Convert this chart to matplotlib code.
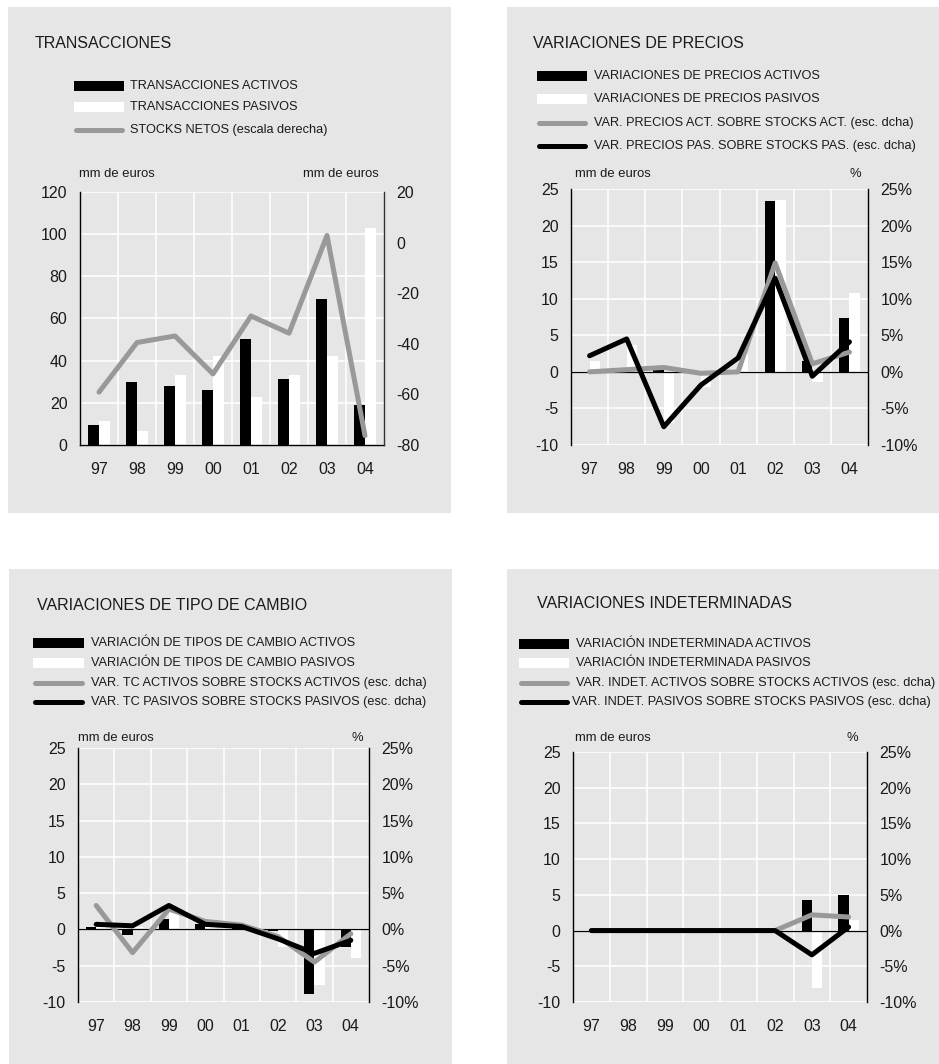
import matplotlib
matplotlib.use("Agg")
import matplotlib.pyplot as plt
from matplotlib.patches import Rectangle
from matplotlib.lines import Line2D

plt.rcParams["font.family"] = ["Liberation Sans", "DejaVu Sans"]

W, H = 939, 1064
BG = "#e6e6e6"
GREY = "#999999"

years = ["97", "98", "99", "00", "01", "02", "03", "04"]

# TRANSACCIONES (mm de euros; stocks netos on right axis)
trans_act = [9.6, 30.1, 27.8, 25.9, 50.5, 31.5, 69.4, 18.8]
trans_pas = [11.2, 6.5, 33.3, 42.0, 22.6, 33.0, 42.0, 102.8]
stocks_netos = [-59.1, -39.5, -36.9, -51.9, -29.0, -35.8, 2.8, -76.3]

# VARIACIONES DE PRECIOS
precios_act = [0.0, 0.3, 0.3, 0.0, 0.0, 23.3, 1.5, 7.3]
precios_pas = [1.5, 3.7, -7.0, -2.1, 2.5, 23.5, -1.4, 10.8]
precios_act_pct = [0.0, 0.3, 0.6, -0.2, 0.0, 14.9, 1.1, 2.7]
precios_pas_pct = [2.2, 4.5, -7.5, -1.8, 1.9, 12.8, -0.6, 4.1]

# VARIACIONES DE TIPO DE CAMBIO
tc_act = [0.4, -0.8, 1.5, 0.8, 0.2, -0.2, -8.9, -2.4]
tc_pas = [0.3, 0.3, 2.6, 1.0, 0.3, -2.4, -7.7, -4.0]
tc_act_pct = [3.3, -3.2, 2.8, 1.1, 0.6, -1.0, -4.5, -0.6]
tc_pas_pct = [0.7, 0.5, 3.3, 0.7, 0.4, -1.3, -3.3, -1.5]

# VARIACIONES INDETERMINADAS
ind_act = [0, 0, 0, 0, 0, 0, 4.3, 5.0]
ind_pas = [0, 0, 0, 0, 0, 0, -8.0, 1.5]
ind_act_pct = [0, 0, 0, 0, 0, 0, 2.2, 1.9]
ind_pas_pct = [0, 0, 0, 0, 0, 0, -3.4, 0.5]

titles = ["TRANSACCIONES", "VARIACIONES DE PRECIOS",
          "VARIACIONES DE TIPO DE CAMBIO", "VARIACIONES INDETERMINADAS"]
legend_labels = [
    ["TRANSACCIONES ACTIVOS", "TRANSACCIONES PASIVOS",
     "STOCKS NETOS (escala derecha)"],
    ["VARIACIONES DE PRECIOS ACTIVOS", "VARIACIONES DE PRECIOS PASIVOS",
     "VAR. PRECIOS ACT. SOBRE STOCKS ACT. (esc. dcha)",
     "VAR. PRECIOS PAS. SOBRE STOCKS PAS. (esc. dcha)"],
    ["VARIACIÓN DE TIPOS DE CAMBIO ACTIVOS", "VARIACIÓN DE TIPOS DE CAMBIO PASIVOS",
     "VAR. TC ACTIVOS SOBRE STOCKS ACTIVOS (esc. dcha)",
     "VAR. TC PASIVOS SOBRE STOCKS PASIVOS (esc. dcha)"],
    ["VARIACIÓN INDETERMINADA ACTIVOS", "VARIACIÓN INDETERMINADA PASIVOS",
     "VAR. INDET. ACTIVOS SOBRE STOCKS ACTIVOS (esc. dcha)",
     "VAR. INDET. PASIVOS SOBRE STOCKS PASIVOS (esc. dcha)"],
]

LEG_SIZE = 9.2
TICK_SIZE = 11.5

fig = plt.figure(figsize=(W / 100, H / 100), dpi=100)


def fx(px):
    return px / W


def fy(py):
    return 1 - py / H


def text(x, y, s, size, ha="left"):
    fig.text(fx(x), fy(y), s, fontsize=size, ha=ha, va="center", color="#1a1a1a")


def background(x0, y0, x1, y1):
    fig.patches.append(Rectangle((fx(x0), fy(y1)), fx(x1 - x0), (y1 - y0) / H,
                                 transform=fig.transFigure, facecolor=BG,
                                 edgecolor="none", zorder=-10))


def legend(x0, x1, tx, rows, kinds, labels, shift_last=0):
    for i, (y, (kind, col), lab) in enumerate(zip(rows, kinds, labels)):
        if kind == "bar":
            fig.patches.append(Rectangle((fx(x0), fy(y + 5)), fx(x1 - x0), 10 / H,
                                         transform=fig.transFigure,
                                         facecolor=col, edgecolor="none"))
        else:
            fig.lines.append(Line2D([fx(x0 + 2), fx(x1 - 2)], [fy(y), fy(y)],
                                    transform=fig.transFigure, color=col,
                                    lw=3.6, solid_capstyle="round"))
        dx = shift_last if i == len(rows) - 1 else 0
        text(tx + dx, y, lab, LEG_SIZE)


def chart(box, act, pas, lines, line_colors, ylim, yticks, rlim, rticks, rlabels,
          zero_spine=False, right_color="black"):
    x0, y0, x1, y1 = box
    ax = fig.add_axes([fx(x0), fy(y1), fx(x1 - x0), (y1 - y0) / H])
    ax.set_facecolor(BG)
    idx = list(range(len(years)))
    w = 0.28
    ax.bar([i - w / 2 for i in idx], act, width=w, color="black", zorder=2)
    ax.bar([i + w / 2 for i in idx], pas, width=w, color="white", zorder=2)
    ax.set_xlim(-0.5, len(years) - 0.5)
    ax.set_ylim(*ylim)
    ax.set_yticks(yticks)
    ax.set_yticklabels([str(v) for v in yticks])
    ax.set_xticks(idx)
    ax.set_xticklabels(years)
    ax.set_xticks([i + 0.5 for i in idx[:-1]], minor=True)
    ax.grid(axis="y", which="major", color="white", lw=1.1, zorder=0)
    ax.grid(axis="x", which="minor", color="white", lw=1.1, zorder=0)
    ax.tick_params(axis="both", which="both", length=0, labelsize=TICK_SIZE,
                   colors="#1a1a1a")
    ax.tick_params(axis="y", pad=9)
    ax.tick_params(axis="x", pad=12)
    for s in ("top", "right"):
        ax.spines[s].set_visible(False)
    ax.spines["left"].set_linewidth(1.0)
    if zero_spine:
        ax.spines["bottom"].set_linewidth(1.0)
    else:
        ax.spines["bottom"].set_visible(False)
        ax.axhline(0, color="black", lw=0.9, zorder=3)

    ax2 = ax.twinx()
    for vals, col in zip(lines, line_colors):
        ax2.plot(idx, vals, color=col, lw=3.6, solid_capstyle="round", zorder=4)
    ax2.set_ylim(*rlim)
    ax2.set_yticks(rticks)
    ax2.set_yticklabels(rlabels)
    ax2.tick_params(axis="y", length=0, labelsize=TICK_SIZE, pad=9, colors="#1a1a1a")
    for s in ("top", "bottom", "left"):
        ax2.spines[s].set_visible(False)
    ax2.spines["right"].set_color(right_color)
    ax2.spines["right"].set_linewidth(1.0)
    return ax, ax2


pct_ticks = list(range(-10, 30, 5))
pct_labels = [f"{v}%" for v in pct_ticks]
four_kinds = [("bar", "black"), ("bar", "white"), ("line", GREY), ("line", "black")]

# panel backgrounds
background(8, 7, 451, 513)
background(507, 7, 939, 513)
background(9, 569, 452, 1064)
background(507, 569, 939, 1064)

# 1. TRANSACCIONES
text(35, 43, titles[0], 11.5)
legend(74, 124, 130, [86, 107, 130], four_kinds[:3], legend_labels[0])
text(79, 174, "mm de euros", 9.4)
text(379, 174, "mm de euros", 9.4, ha="right")
chart((80, 192, 384, 445), trans_act, trans_pas, [stocks_netos], [GREY],
      (0, 120), list(range(0, 140, 20)), (-80, 20), list(range(-80, 40, 20)),
      [str(v) for v in range(-80, 40, 20)], zero_spine=True, right_color="#333333")

# 2. VARIACIONES DE PRECIOS
text(533, 43, titles[1], 11.5)
legend(537, 587, 594, [76, 99, 123, 146], four_kinds, legend_labels[1])
text(575, 174, "mm de euros", 9.4)
text(861, 174, "%", 9.4, ha="right")
chart((571, 189, 868, 445), precios_act, precios_pas,
      [precios_act_pct, precios_pas_pct], [GREY, "black"],
      (-10, 25), pct_ticks, (-10, 25), pct_ticks, pct_labels)

# 3. VARIACIONES DE TIPO DE CAMBIO
text(37, 605, titles[2], 11.5)
legend(33, 84, 91, [643, 663, 683, 702], four_kinds, legend_labels[2])
text(78, 738, "mm de euros", 9.4)
text(363, 738, "%", 9.4, ha="right")
chart((78, 748, 369, 1002), tc_act, tc_pas, [tc_act_pct, tc_pas_pct], [GREY, "black"],
      (-10, 25), pct_ticks, (-10, 25), pct_ticks, pct_labels)

# 4. VARIACIONES INDETERMINADAS
text(537, 604, titles[3], 11.5)
legend(519, 569, 576, [644, 663, 683, 702], four_kinds, legend_labels[3],
       shift_last=-4)
text(575, 738, "mm de euros", 9.4)
text(858, 738, "%", 9.4, ha="right")
chart((573, 752, 867, 1002), ind_act, ind_pas, [ind_act_pct, ind_pas_pct],
      [GREY, "black"], (-10, 25), pct_ticks, (-10, 25), pct_ticks, pct_labels)

fig.savefig("out.png", dpi=100, facecolor="white")
